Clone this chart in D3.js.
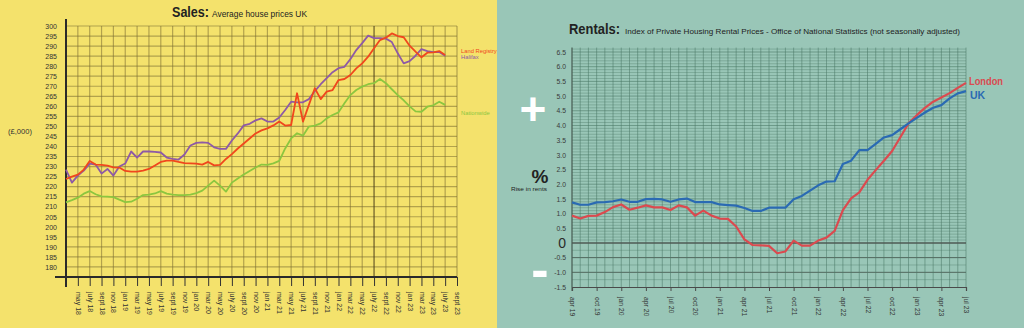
<!DOCTYPE html>
<html><head><meta charset="utf-8">
<script src="https://cdn.jsdelivr.net/npm/d3@7"></script>
<style>
html,body{margin:0;padding:0;background:#99c6b7;}
svg{display:block;font-family:"Liberation Sans",Arial,sans-serif;}
</style>
</head><body>
<svg id="c" width="1024" height="328"></svg>
<script>
// ---------- SALES (left) ----------
const salesTickLabels = ["may 18","july 18","sept 18","nov 18","jan 19","mar 19","may 19","july 19","sept 19","nov 19","jan 20","mar 20","may 20","july 20","sept 20","nov 20","jan 21","mar 21","may 21","july 21","sept 21","nov 21","jan 22","mar 22","may 22","july 22","sept 22","nov 22","jan 23","mar 23","may 23","july 23","sept 23"];
const salesYTicks = [180,185,190,195,200,205,210,215,220,225,230,235,240,245,250,255,260,265,270,275,280,285,290,295,300];
// monthly values from mar 18 (index 0) to jul 23 (index 64), £000
const landRegistry = [223.8,225,226,228.5,232.8,231,230.8,230.5,229.6,229.5,227.8,227.5,227.5,228,228.8,230.5,232.3,233,233,232.3,231.7,231.6,231.5,231,232.3,230.6,230.8,233.8,236.2,239,241.5,244,246.5,248,249,250.5,252.4,250.4,250.7,266.5,252.4,260.7,269,263.6,267.3,268.1,273.1,273.6,275.6,278.9,281.4,284.7,288.9,293,294.2,296.3,295,294.4,290.2,287.2,284.4,286.7,286.9,287.5,285.6];
const halifax = [228.5,222,225.5,228,231.5,231,226.5,228.8,225.5,230,231.5,237.5,234.5,237.5,237.5,237.3,237,234.5,233.8,233.5,236,240.5,241.8,242,241.8,239.6,238.8,238.8,243,246.5,250.5,251.3,253,254,252.4,252.4,254.4,258.2,262.3,262,262,263.6,267.6,271,274,277,279,279.7,283.5,288,291.5,295.2,294,294,293.7,292,286.4,281.4,282.5,285.2,288.5,287.5,287,287,285.2];
const nationwide = [212.2,213.3,214.5,216.5,217.8,216.2,215.2,215,214.8,213.5,212.3,212.5,214,215.8,216,216.6,217.8,216.5,216,215.8,215.8,216,216.8,218,220.5,223,220.5,217.5,222,224,226,227.8,229.5,231,230.8,231.6,232.8,239,244,246.6,245.4,249.9,250.4,251.5,254,255.7,257,261.5,265.6,268.1,269.8,271,271.5,273.6,271.5,268.5,265.6,263,260,257.5,257.3,259.8,260.5,262.3,260.7];
const salesSeriesNames = ["Land Registry","Halifax","Nationwide"];

// ---------- RENTALS (right) ----------
const rentTickLabels = ["apr 19","oct 19","jan 20","apr 20","jul 20","oct 20","jan 21","apr 21","jul 21","oct 21","jan 22","apr 22","jul 22","oct 22","jan 23","apr 23","jul 23"];
const rentYTicks = [-1.5,-1,-0.5,0,0.5,1,1.5,2,2.5,3,3.5,4,4.5,5,5.5,6,6.5];
const london = [0.93,0.83,0.92,0.93,1.05,1.22,1.31,1.13,1.2,1.28,1.21,1.21,1.12,1.28,1.21,0.93,1.10,0.93,0.83,0.82,0.56,0.12,-0.07,-0.08,-0.10,-0.35,-0.29,0.08,-0.09,-0.09,0.08,0.18,0.41,1.12,1.52,1.72,2.15,2.48,2.80,3.13,3.6,4.07,4.35,4.6,4.81,4.95,5.1,5.28,5.45];
const uk = [1.38,1.30,1.30,1.38,1.39,1.42,1.48,1.40,1.40,1.49,1.50,1.48,1.40,1.48,1.51,1.39,1.39,1.39,1.31,1.29,1.27,1.19,1.09,1.09,1.20,1.20,1.20,1.49,1.60,1.78,1.96,2.09,2.10,2.69,2.80,3.16,3.16,3.37,3.59,3.67,3.87,4.07,4.26,4.44,4.60,4.69,4.92,5.09,5.17];
const rentSeriesNames = ["London","UK"];

const svg = d3.select("#c");
const YEL = "#f4e26c", TEAL = "#99c6b7";
svg.append("rect").attr("x",0).attr("y",0).attr("width",497).attr("height",328).attr("fill",YEL);
svg.append("rect").attr("x",497).attr("y",0).attr("width",527).attr("height",328).attr("fill",TEAL);

// ===== LEFT CHART =====
const xS = d3.scaleLinear().domain([0,66]).range([66,457]);
const yS = d3.scaleLinear().domain([175,300]).range([277,26]);
const L = svg.append("g");
const gridC = "#7d6e33";
L.selectAll(".hg").data(salesYTicks).enter().append("line")
  .attr("x1",xS(0)).attr("x2",xS(66)).attr("y1",d=>yS(d)).attr("y2",d=>yS(d))
  .attr("stroke",gridC).attr("stroke-width",1.2).attr("opacity",0.55);
const vIdx = salesTickLabels.map((d,i)=>2+2*i);
L.selectAll(".vg").data(vIdx).enter().append("line")
  .attr("x1",d=>xS(d)).attr("x2",d=>xS(d)).attr("y1",yS(300)).attr("y2",yS(175))
  .attr("stroke",d=>d===52?"#4a3f18":gridC).attr("stroke-width",d=>d===52?1.4:1.2).attr("opacity",d=>d===52?0.7:0.55);

const yAx = L.append("g").attr("transform",`translate(${xS(0)},0)`)
  .call(d3.axisLeft(yS).tickValues(salesYTicks).tickSize(0).tickPadding(9));
yAx.select(".domain").remove();
yAx.selectAll("text").attr("font-size",7).attr("fill","#333").attr("font-family","Liberation Sans, Arial, sans-serif");

const xAx = L.append("g").attr("transform",`translate(0,${yS(175)})`)
  .call(d3.axisBottom(xS).tickValues(vIdx).tickFormat((d,i)=>salesTickLabels[i]).tickSize(9));
xAx.select(".domain").remove();
xAx.selectAll(".tick line").attr("stroke","#333").attr("stroke-width",1);
xAx.selectAll("text").attr("transform","rotate(90)").attr("x",15).attr("y",0).attr("dy","0.35em")
  .attr("text-anchor","start").attr("font-size",7).attr("fill","#333").attr("font-family","Liberation Sans, Arial, sans-serif");

L.append("line").attr("x1",55).attr("x2",xS(66)).attr("y1",yS(175)).attr("y2",yS(175)).attr("stroke","#2a2a2a").attr("stroke-width",2);
L.append("line").attr("x1",xS(0)).attr("x2",xS(0)).attr("y1",19).attr("y2",287).attr("stroke","#2a2a2a").attr("stroke-width",2);

const salesData = [landRegistry, halifax, nationwide];
const salesColors = ["#f0471d","#8e5aa6","#8cc63f"];
const lineS = d3.line().x((d,i)=>xS(i)).y(d=>yS(d));
[2,1,0].forEach(k=>{
  L.append("path").attr("d",lineS(salesData[k])).attr("fill","none")
   .attr("stroke",salesColors[k]).attr("stroke-width",1.8).attr("stroke-linejoin","round");
});
const legS = [[salesSeriesNames[0],53],[salesSeriesNames[1],58.5],[salesSeriesNames[2],115]];
legS.forEach((d,k)=>{
  L.append("text").attr("x",461).attr("y",d[1]).attr("font-size",5.8).attr("fill",salesColors[k]).text(d[0]);
});
L.append("text").attr("x",172).attr("y",17).attr("font-size",14).attr("font-weight","bold").attr("fill","#222")
  .attr("textLength",37).attr("lengthAdjust","spacingAndGlyphs").text("Sales:");
L.append("text").attr("x",212).attr("y",17).attr("font-size",9.5).attr("fill","#222")
  .attr("textLength",95).attr("lengthAdjust","spacingAndGlyphs").text("Average house prices UK");
L.append("text").attr("x",8).attr("y",134).attr("font-size",7).attr("fill","#333")
  .attr("textLength",24).attr("lengthAdjust","spacingAndGlyphs").text("(£,000)");

// ===== RIGHT CHART =====
const xR = d3.scaleLinear().domain([0,48]).range([572,966]);
const yR = d3.scaleLinear().domain([-1.5,6.5]).range([287,52]);
const R = svg.append("g");
const gC = "#4b7866";
const hPos = d3.range(1,67).map(d=>d/10).concat([-0.25,-0.75,-1.25]);
R.selectAll(".hr").data(hPos).enter().append("line")
  .attr("x1",xR(0)).attr("x2",xR(48)).attr("y1",d=>yR(d)).attr("y2",d=>yR(d))
  .attr("stroke",gC).attr("stroke-width",0.8)
  .attr("opacity",d=>(Math.abs(d*2-Math.round(d*2))<1e-6)?0.75:0.45);
R.selectAll(".hr2").data([-0.5,-1.0]).enter().append("line")
  .attr("x1",xR(0)).attr("x2",xR(48)).attr("y1",d=>yR(d)).attr("y2",d=>yR(d))
  .attr("stroke","#51665c").attr("stroke-width",1);
R.selectAll(".vr").data(d3.range(0,49)).enter().append("line")
  .attr("x1",d=>xR(d)).attr("x2",d=>xR(d)).attr("y1",yR(6.65)).attr("y2",yR(-1.5))
  .attr("stroke",gC).attr("stroke-width",0.9).attr("opacity",0.6);
R.append("line").attr("x1",xR(0)).attr("x2",xR(48)).attr("y1",yR(0)).attr("y2",yR(0))
  .attr("stroke","#4f5a55").attr("stroke-width",1.6);
const yAxR = R.append("g").attr("transform",`translate(${xR(0)},0)`)
  .call(d3.axisLeft(yR).tickValues(rentYTicks).tickSize(0).tickPadding(6)
    .tickFormat(d=>d===0?"0":(d<0?"-":"")+Math.abs(d).toFixed(1)));
yAxR.select(".domain").remove();
yAxR.selectAll("text").attr("font-size",d=>d===0?14:6.8).attr("fill",d=>d===0?"#2a2a2a":"#3a3a3a")
  .attr("font-family","Liberation Sans, Arial, sans-serif");
const xAxR = R.append("g").attr("transform",`translate(0,${yR(-1.5)})`)
  .call(d3.axisBottom(xR).tickValues(rentTickLabels.map((d,i)=>3*i)).tickFormat((d,i)=>rentTickLabels[i]).tickSize(4));
xAxR.select(".domain").attr("stroke","#4a4a4a").attr("stroke-width",1.2);
xAxR.selectAll(".tick line").attr("stroke","#4a4a4a");
xAxR.selectAll("text").attr("transform","rotate(90)").attr("x",10).attr("y",0).attr("dy","0.35em")
  .attr("text-anchor","start").attr("font-size",6.8).attr("fill","#333").attr("font-family","Liberation Sans, Arial, sans-serif");
R.append("line").attr("x1",xR(0)).attr("x2",xR(0)).attr("y1",yR(6.65)).attr("y2",yR(-1.5)+4).attr("stroke","#4a5a52").attr("stroke-width",1);

const rentData = [london, uk];
const rentColors = ["#db4a4f","#2a6ab3"];
const lineR = d3.line().x((d,i)=>xR(i)).y(d=>yR(d));
[0,1].forEach(k=>{
  R.append("path").attr("d",lineR(rentData[k])).attr("fill","none")
   .attr("stroke",rentColors[k]).attr("stroke-width",2.2).attr("stroke-linejoin","round");
});
R.append("text").attr("x",969).attr("y",85).attr("font-size",10.5).attr("font-weight","bold").attr("fill",rentColors[0])
  .attr("textLength",34).attr("lengthAdjust","spacingAndGlyphs").text(rentSeriesNames[0]);
R.append("text").attr("x",970).attr("y",99).attr("font-size",10.5).attr("font-weight","bold").attr("fill",rentColors[1])
  .text(rentSeriesNames[1]);
R.append("text").attr("x",569).attr("y",34).attr("font-size",14).attr("font-weight","bold").attr("fill","#222")
  .attr("textLength",51).attr("lengthAdjust","spacingAndGlyphs").text("Rentals:");
R.append("text").attr("x",625).attr("y",34).attr("font-size",8).attr("fill","#222")
  .attr("textLength",335).attr("lengthAdjust","spacingAndGlyphs")
  .text("Index of Private Housing Rental Prices - Office of National Statistics (not seasonally adjusted)");
R.append("text").attr("x",533).attr("y",125).attr("text-anchor","middle").attr("font-size",46).attr("font-weight","bold").attr("fill","#fff").text("+");
R.append("text").attr("x",540).attr("y",287).attr("text-anchor","middle").attr("font-size",52).attr("font-weight","bold").attr("fill","#fff").text("-");
R.append("text").attr("x",540).attr("y",183).attr("text-anchor","middle").attr("font-size",19).attr("font-weight","bold").attr("fill","#222").text("%");
R.append("text").attr("x",529).attr("y",191).attr("text-anchor","middle").attr("font-size",6).attr("fill","#222")
  .attr("textLength",36).attr("lengthAdjust","spacingAndGlyphs").text("Rise in rents");
</script>
</body></html>
